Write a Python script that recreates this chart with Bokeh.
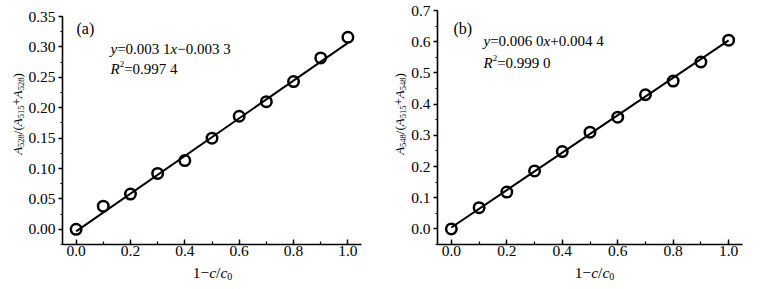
import math
from bokeh.plotting import figure
from bokeh.layouts import row, column
from bokeh.models import Label, Range1d, SingleIntervalTicker, NumeralTickFormatter
from bokeh.embed import file_html
from bokeh.resources import INLINE

# ---------------- data ----------------
x_vals = [0.0, 0.1, 0.2, 0.3, 0.4, 0.5, 0.6, 0.7, 0.8, 0.9, 1.0]
y_a = [0.000, 0.038, 0.058, 0.092, 0.113, 0.150, 0.186, 0.210, 0.243, 0.282, 0.316]
y_b = [0.000, 0.068, 0.118, 0.186, 0.248, 0.310, 0.358, 0.430, 0.474, 0.535, 0.605]
fit_a = (0.31, -0.0033)   # slope, intercept (x in 0..1 units)
fit_b = (0.60, 0.0044)
eq_a = ["y", "=0.003 1", "x", "\u22120.003 3"]
eq_b = ["y", "=0.006 0", "x", "+0.004 4"]
r2_a = "=0.997 4"
r2_b = "=0.999 0"
x_ticks_fmt = "0.0"

FONT = "Liberation Serif"

# Times-like advance widths (em)
W_N = {"0": .5, "1": .5, "2": .5, "3": .5, "4": .5, "5": .5, "6": .5, "7": .5,
       "8": .5, "9": .5, ".": .25, " ": .25, "=": .564, "+": .564, "\u2212": .564,
       "/": .278, "(": .333, ")": .333, "a": .444, "b": .5}
W_I = {"A": .611, "R": .611, "c": .444, "x": .444, "y": .444}


def tw(s, size, italic):
    tab = W_I if italic else W_N
    return sum(tab.get(ch, W_N.get(ch, .5)) for ch in s) * size


def mk_label(x, y, t, size, it, angle=0.0, align="left"):
    return Label(x=x, y=y, x_units="screen", y_units="screen", text=t, angle=angle,
                 text_font=FONT, text_font_size=f"{size}px",
                 text_font_style="italic" if it else "normal",
                 text_color="black", text_align=align, text_baseline="middle")


def rich_h(p, pieces, sx, sy):
    """pieces: (text, size, italic, dy_up); sx left edge, sy text centre (screen, up)."""
    x = sx
    for t, size, it, dy in pieces:
        p.add_layout(mk_label(x, sy + dy, t, size, it))
        x += tw(t, size, it)


def rich_v(p, pieces, sx, sy_center):
    """vertical text reading upward, centred on sx; dx shift to the right for subscripts."""
    total = sum(tw(t, s, it) for t, s, it, _ in pieces)
    y = sy_center - total / 2
    for t, size, it, dx in pieces:
        w = tw(t, size, it)
        p.add_layout(mk_label(sx + dx, y + w / 2, t, size, it, angle=math.pi / 2, align="center"))
        y += w


def blank(w, h):
    f = figure(width=w, height=h, output_backend="svg", toolbar_location=None,
               x_range=Range1d(0, 1), y_range=Range1d(0, 1),
               min_border_left=0, min_border_right=0, min_border_top=0, min_border_bottom=0)
    f.axis.visible = False
    f.grid.visible = False
    f.outline_line_color = None
    f.background_fill_color = "white"
    f.border_fill_color = "white"
    return f


MAIN_H = 263
XLAB_H = 26


def make_panel(ys, fit, yr, y_int, y_fmt, ylab_w, width, border, tag, eq, r2, sub_id, pos):
    left, right, top, bottom = border
    main_w = width - ylab_w
    p = figure(width=main_w, height=MAIN_H, output_backend="svg", toolbar_location=None,
               x_range=Range1d(-0.05, 1.05), y_range=Range1d(*yr),
               min_border_left=left, min_border_right=right,
               min_border_top=top, min_border_bottom=bottom)
    p.outline_line_color = None
    p.grid.visible = False
    p.background_fill_color = "white"
    p.border_fill_color = "white"

    for ax, ticker, fmt in ((p.xaxis[0], SingleIntervalTicker(interval=0.2, num_minor_ticks=2), x_ticks_fmt),
                            (p.yaxis[0], SingleIntervalTicker(interval=y_int, num_minor_ticks=2), y_fmt)):
        ax.ticker = ticker
        ax.formatter = NumeralTickFormatter(format=fmt)
        ax.axis_line_width = 1.6
        ax.axis_line_color = "black"
        ax.major_tick_line_color = "black"
        ax.minor_tick_line_color = "black"
        ax.major_tick_line_width = 1.4
        ax.minor_tick_line_width = 1.2
        ax.major_label_text_font = FONT
        ax.major_label_text_font_size = "15.5px"
        ax.major_label_text_color = "black"
    p.xaxis.major_tick_in = 5
    p.xaxis.major_tick_out = 0
    p.xaxis.minor_tick_in = 3
    p.xaxis.minor_tick_out = 0
    p.xaxis.major_label_standoff = 1
    p.yaxis.major_tick_in = 0
    p.yaxis.major_tick_out = 4
    p.yaxis.minor_tick_in = 0
    p.yaxis.minor_tick_out = 2
    p.yaxis.major_label_standoff = 3

    xl = [x_vals[0], x_vals[-1]]
    p.line(xl, [fit[0] * v + fit[1] for v in xl], line_color="black", line_width=2)
    p.scatter(x_vals, ys, marker="circle", size=10.5, fill_color="white", fill_alpha=0,
              line_color="black", line_width=2.5)

    tx, ty = pos["tag"]
    ex, ey = pos["eq"]
    ry = pos["r2"]
    rich_h(p, [(tag, 16, False, 0)], tx, ty)
    rich_h(p, [(eq[0], 15, True, 0), (eq[1], 15, False, 0), (eq[2], 15, True, 0),
               (eq[3], 15, False, 0)], ex, ey)
    rich_h(p, [("R", 15, True, 0), ("2", 9, False, 5), (r2, 15, False, 0)], ex, ry)

    # y axis label in its own strip
    yl = blank(ylab_w, MAIN_H)
    sub = [("A", 13, True, 0), (sub_id, 8.5, False, 3.5), ("/(", 13, False, 0),
           ("A", 13, True, 0), ("515", 8.5, False, 3.5), ("+", 13, False, 0),
           ("A", 13, True, 0), (sub_id, 8.5, False, 3.5), (")", 13, False, 0)]
    rich_v(yl, sub, pos["ylab"][0], MAIN_H - pos["ylab"][1])

    # x axis label strip
    xlf = blank(width, XLAB_H)
    xpieces = [("1\u2212", 15.5, False, 0), ("c", 15.5, True, 0), ("/", 15.5, False, 0),
               ("c", 15.5, True, 0), ("0", 10, False, -4)]
    tot = sum(tw(t, s, it) for t, s, it, _ in xpieces)
    rich_h(xlf, xpieces, pos["xlab"][0] - tot / 2, XLAB_H - pos["xlab"][1])
    return column(row(yl, p), xlf)


# positions: tag/eq centres in screen units from frame bottom-left;
# ylab (x centre, y centre from top); xlab (x centre, y centre from top of strip)
pa = make_panel(y_a, fit_a, (-0.025, 0.3501), 0.05, "0.00", 25, 384, (36, 23, 16, 19),
                "(a)", eq_a, r2_a, "528",
                {"tag": (14, 216), "eq": (48, 196), "r2": 176, "ylab": (16.5, 132.5), "xlab": (212, 9)})
pb = make_panel(y_b, fit_b, (-0.05, 0.7001), 0.1, "0.0", 24, 376, (28, 18, 10, 19),
                "(b)", eq_b, r2_b, "548",
                {"tag": (16, 216.5), "eq": (46, 204), "r2": 182, "ylab": (14.5, 132.5), "xlab": (210, 9)})

layout = row(pa, pb)
open("out.html", "w").write(file_html(layout, INLINE))
